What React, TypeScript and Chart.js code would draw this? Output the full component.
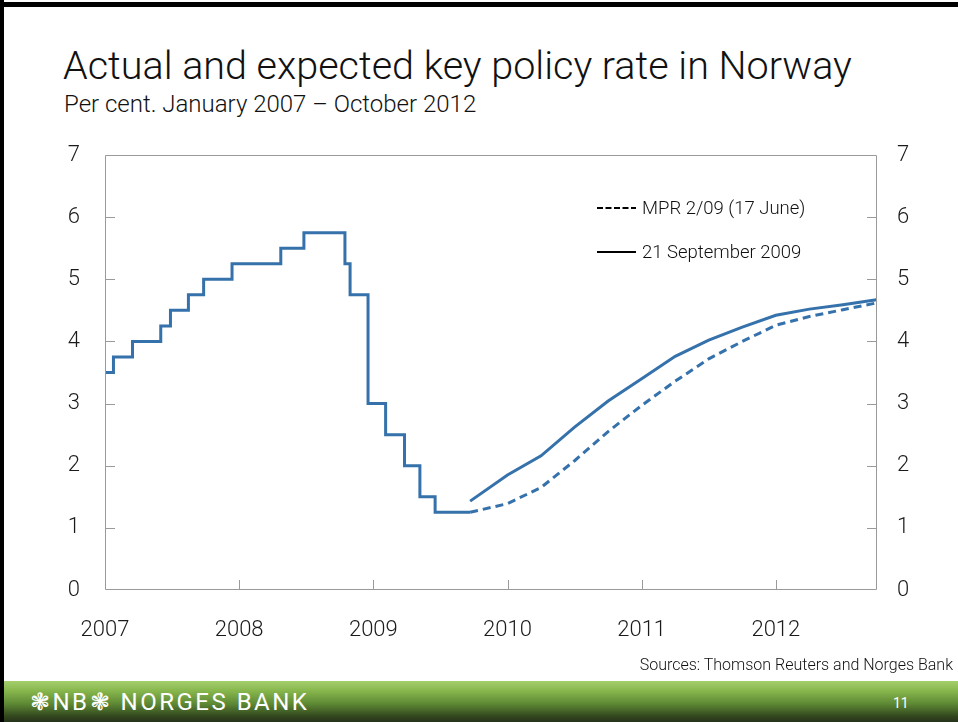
import React, { useEffect, useRef } from "react";
import { Chart, registerables } from "chart.js";

Chart.register(...registerables);

// Actual key policy rate: change dates and new levels (per cent)
const policyDates = [
  "2007-01-01", "2007-01-24", "2007-03-15", "2007-05-31", "2007-06-27",
  "2007-08-15", "2007-09-26", "2007-12-12", "2008-04-23", "2008-06-25",
  "2008-10-15", "2008-10-29", "2008-12-17", "2009-02-04", "2009-03-25",
  "2009-05-06", "2009-06-17", "2009-09-21",
];
const policyRates = [
  3.5, 3.75, 4.0, 4.25, 4.5, 4.75, 5.0, 5.25, 5.5, 5.75,
  5.25, 4.75, 3.0, 2.5, 2.0, 1.5, 1.25, 1.25,
];

// Expected paths (quarterly)
const pathDates = [
  "2009-09-21", "2010-01-01", "2010-04-01", "2010-07-01", "2010-10-01",
  "2011-01-01", "2011-04-01", "2011-07-01", "2011-10-01", "2012-01-01",
  "2012-04-01", "2012-07-01", "2012-10-01",
];
const mprJune = [1.25, 1.39, 1.65, 2.08, 2.55, 2.97, 3.36, 3.72, 4.0, 4.26, 4.4, 4.51, 4.62];
const sept21 = [1.43, 1.85, 2.16, 2.62, 3.04, 3.4, 3.76, 4.02, 4.23, 4.42, 4.52, 4.59, 4.67];

const yearTicks = [2007, 2008, 2009, 2010, 2011, 2012];
const rateTicks = [0, 1, 2, 3, 4, 5, 6, 7];
const xMin = 2007;
const xMax = 2012.754;

const BLUE = "#3571aa";
const FONT = "Roboto, 'Liberation Sans', sans-serif";

function toYear(d: string): number {
  const [y, m, day] = d.split("-").map(Number);
  return y + (m - 1) / 12 + (day - 1) / 365;
}

const framePlugin = {
  id: "frameTicks",
  afterDatasetsDraw(chart: any) {
    const { ctx, chartArea, scales } = chart;
    const { left, right, top, bottom } = chartArea;
    ctx.save();
    ctx.strokeStyle = "#9a9a9a";
    ctx.lineWidth = 1;
    ctx.beginPath();
    ctx.rect(left + 0.5, top + 0.5, right - left - 1, bottom - top - 1);
    const tl = 10;
    rateTicks.forEach((v) => {
      if (v === 0 || v === 7) return;
      const py = Math.round(scales.y.getPixelForValue(v)) + 0.5;
      ctx.moveTo(left, py);
      ctx.lineTo(left + tl, py);
      ctx.moveTo(right, py);
      ctx.lineTo(right - tl, py);
    });
    yearTicks.forEach((v) => {
      if (v === xMin) return;
      const px = Math.round(scales.x.getPixelForValue(v)) + 0.5;
      ctx.moveTo(px, bottom);
      ctx.lineTo(px, bottom - tl);
    });
    ctx.stroke();
    ctx.restore();
  },
};

function ChartCanvas() {
  const ref = useRef<HTMLCanvasElement | null>(null);
  useEffect(() => {
    if (!ref.current) return;
    const history = policyDates.map((d, i) => ({ x: toYear(d), y: policyRates[i] }));
    const mpr = pathDates.map((d, i) => ({ x: toYear(d), y: mprJune[i] }));
    const sep = pathDates.map((d, i) => ({ x: toYear(d), y: sept21[i] }));
    const tickFont = { family: FONT, size: 22, weight: 300 as any };
    const chart = new Chart(ref.current, {
      type: "line",
      data: {
        datasets: [
          {
            label: "Key policy rate",
            data: history,
            stepped: "before",
            borderColor: BLUE,
            borderWidth: 3,
            pointRadius: 0,
            fill: false,
          },
          {
            label: "MPR 2/09 (17 June)",
            data: mpr,
            borderColor: BLUE,
            borderWidth: 3,
            borderDash: [8, 5],
            pointRadius: 0,
            tension: 0,
            fill: false,
          },
          {
            label: "21 September 2009",
            data: sep,
            borderColor: BLUE,
            borderWidth: 3,
            pointRadius: 0,
            tension: 0,
            fill: false,
          },
        ],
      },
      options: {
        responsive: false,
        animation: false,
        layout: { padding: { top: 155, left: 0, right: 0, bottom: 0 } },
        plugins: { legend: { display: false }, tooltip: { enabled: false } },
        scales: {
          x: {
            type: "linear",
            min: xMin,
            max: xMax,
            grid: { display: false, drawTicks: false },
            border: { display: false },
            afterBuildTicks: (s: any) => {
              s.ticks = yearTicks.map((v) => ({ value: v }));
            },
            afterFit: (s: any) => {
              s.height = 70;
            },
            ticks: {
              font: tickFont,
              color: "#1a1a1a",
              padding: 27,
              maxRotation: 0,
              autoSkip: false,
              callback: (v: any) => String(v),
            },
          },
          y: {
            type: "linear",
            position: "left",
            min: 0,
            max: 7,
            grid: { display: false, drawTicks: false },
            border: { display: false },
            afterBuildTicks: (s: any) => {
              s.ticks = rateTicks.map((v) => ({ value: v }));
            },
            afterFit: (s: any) => {
              s.width = 105;
            },
            ticks: { font: tickFont, color: "#1a1a1a", padding: 25, callback: (v: any) => String(v) },
          },
          y2: {
            type: "linear",
            position: "right",
            min: 0,
            max: 7,
            grid: { display: false, drawTicks: false },
            border: { display: false },
            afterBuildTicks: (s: any) => {
              s.ticks = rateTicks.map((v) => ({ value: v }));
            },
            afterFit: (s: any) => {
              s.width = 81;
            },
            ticks: { font: tickFont, color: "#1a1a1a", padding: 20, callback: (v: any) => String(v) },
          },
        },
      },
      plugins: [framePlugin],
    });
    return () => chart.destroy();
  }, []);
  return (
    <canvas
      ref={ref}
      width={958}
      height={660}
      style={{ position: "absolute", left: 0, top: 0, width: 958, height: 660 }}
    />
  );
}

export default function App() {
  const text: React.CSSProperties = { position: "absolute", fontFamily: FONT, color: "#111", whiteSpace: "nowrap" };
  return (
    <div style={{ position: "fixed", left: 0, top: 0, width: 958, height: 722, background: "#fff", overflow: "hidden" }}>
      <div style={{ position: "absolute", left: 0, top: 2, width: 958, height: 5, background: "#000" }} />
      <div style={{ position: "absolute", left: 0, top: 0, width: 4, height: 722, background: "#000" }} />
      <div style={{ ...text, left: 63, top: 43, fontSize: 39.5, fontWeight: 300, lineHeight: "46px" }}>
        Actual and expected key policy rate in Norway
      </div>
      <div style={{ ...text, left: 64, top: 90, fontSize: 24, fontWeight: 300, lineHeight: "28px" }}>
        Per cent. January 2007 – October 2012
      </div>
      <ChartCanvas />
      <svg style={{ position: "absolute", left: 597, top: 200, width: 40, height: 60 }}>
        <line x1={0} y1={8} x2={39} y2={8} stroke="#000" strokeWidth={2} strokeDasharray="6 2.5" />
        <line x1={0} y1={52} x2={39} y2={52} stroke="#000" strokeWidth={2} />
      </svg>
      <div style={{ ...text, left: 642, top: 196, fontSize: 18.5, lineHeight: "24px", fontWeight: 300 }}>
        MPR 2/09 (17 June)
      </div>
      <div style={{ ...text, left: 642, top: 240, fontSize: 18.5, lineHeight: "24px", fontWeight: 300 }}>
        21 September 2009
      </div>
      <div style={{ ...text, right: 5, top: 655, fontSize: 16, lineHeight: "20px", fontWeight: 300 }}>
        Sources: Thomson Reuters and Norges Bank
      </div>
      <div
        style={{
          position: "absolute",
          left: 4,
          top: 681,
          width: 954,
          height: 41,
          background: "linear-gradient(to bottom, #a4d06c 0%, #86b54c 25%, #5f8a35 55%, #34491e 85%, #26331a 100%)",
        }}
      />
      <div style={{ ...text, left: 30, top: 687, fontSize: 24, lineHeight: "30px", color: "#fff", letterSpacing: 2.5 }}>
        ❃NB❃ NORGES BANK
      </div>
      <div style={{ ...text, left: 893, top: 694, fontSize: 14, lineHeight: "18px", color: "#fff" }}>11</div>
    </div>
  );
}
